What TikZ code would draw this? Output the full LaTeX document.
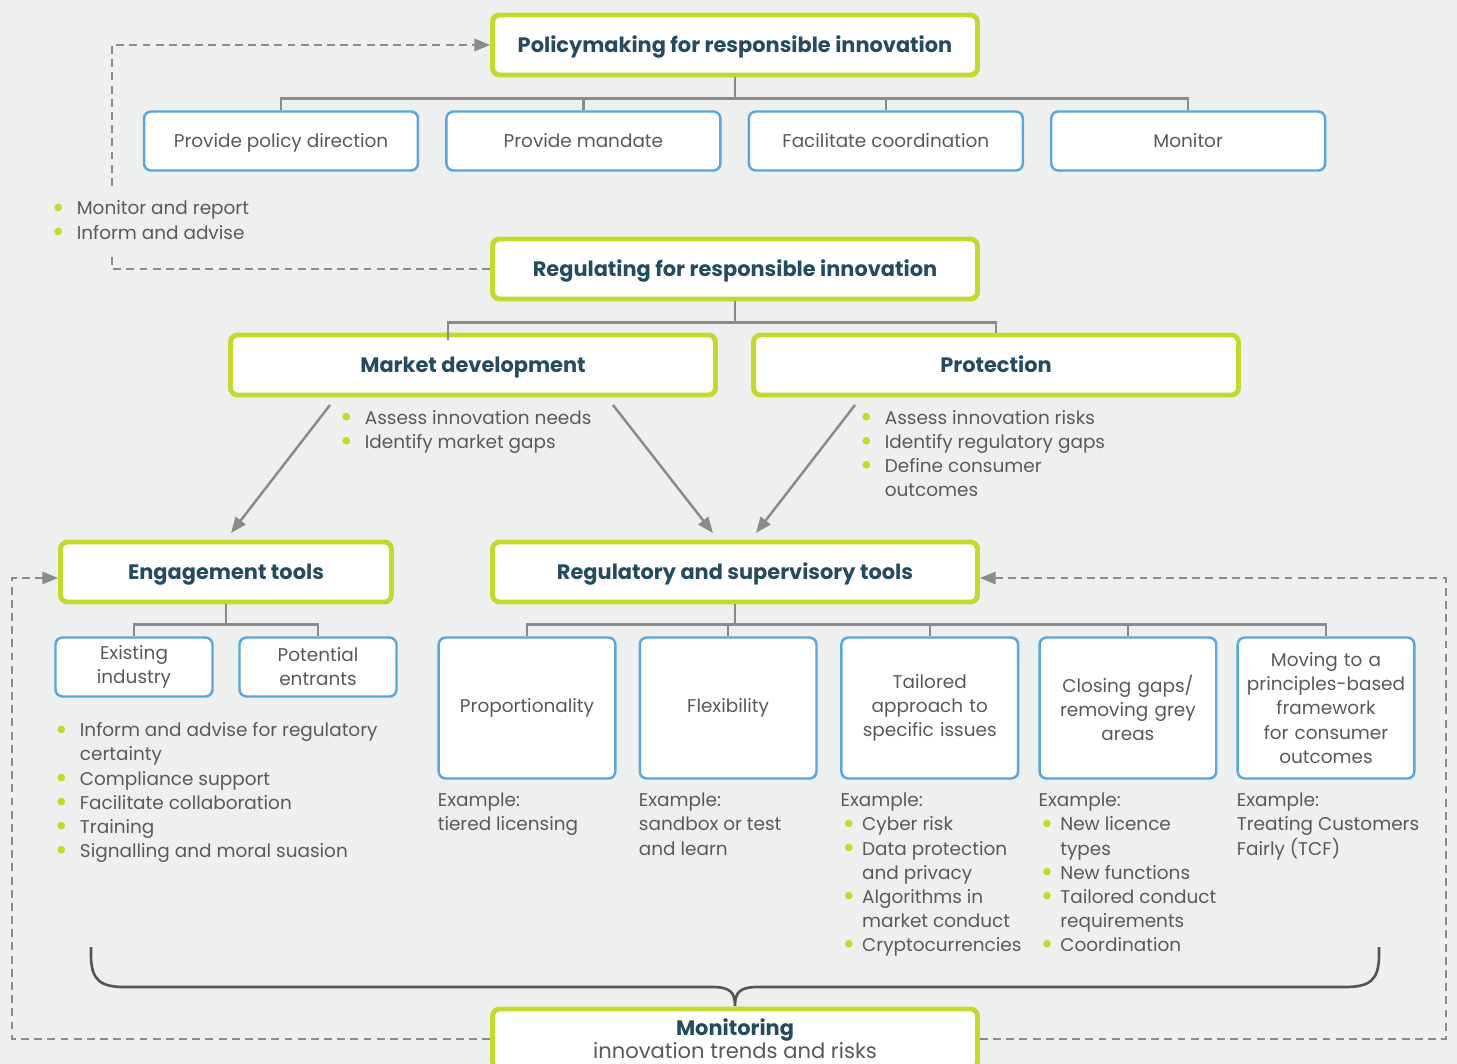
\documentclass[tikz,border=0pt]{standalone}
\usepackage{fontspec}
\setmainfont{Poppins}
\usepackage{xcolor}
\usetikzlibrary{positioning, arrows.meta}

\definecolor{bgcol}{HTML}{EEF0EF}
\definecolor{lime}{HTML}{C5D82D}
\definecolor{skyline}{HTML}{5AA5DC}
\definecolor{headtxt}{HTML}{244B5E}
\definecolor{bodytxt}{HTML}{595959}
\definecolor{linegray}{HTML}{8A8A8A}
\definecolor{bracegray}{HTML}{555555}

\newcommand{\bodyfont}{\fontsize{10.5}{13.7}\selectfont}
\newcommand{\headfont}{\fontsize{11.9}{15}\selectfont\bfseries}
\newcommand{\bpt}{\tikz[baseline=-4.3pt]\fill[lime] (0,0) circle[radius=2.2pt];}
\newcommand{\blist}[1]{\begin{tabular}{@{}l@{\hspace{8.4pt}}l@{}}#1\end{tabular}}
\newcommand{\exlist}[1]{\begin{tabular}{@{\hspace{2.5pt}}l@{\hspace{5.4pt}}l@{}}#1\end{tabular}}

\begin{document}
\begin{tikzpicture}[
    x=0.02cm, y=-0.02cm,
    mainbox/.style={rectangle, draw=lime, line width=2.8pt, rounded corners=4pt, fill=white, minimum width=9.7cm, minimum height=1.2cm, align=center, text=headtxt, font=\headfont, text height=8.4pt, text depth=0pt},
    subbox/.style={rectangle, draw=skyline, line width=1.4pt, rounded corners=4pt, fill=white, minimum width=5.48cm, minimum height=1.18cm, align=center, text=bodytxt, font=\bodyfont, text height=7.3pt, text depth=0pt},
    multi/.style={text height=, text depth=},
    toolbox/.style={subbox, multi, minimum width=3.5cm, minimum height=2.82cm, text width=3.3cm},
    plain/.style={inner sep=0pt, text=bodytxt, font=\bodyfont, align=left},
    tree/.style={draw=linegray, line width=1.4pt},
    fb/.style={draw=linegray, line width=1.4pt, dash pattern=on 4.5pt off 3pt, -{Triangle[length=9pt,width=7pt]}},
    arr/.style={draw=linegray, line width=1.4pt, -{Triangle[length=9pt,width=7pt]}}
]

\useasboundingbox (0,0) rectangle (1457,1064);
\clip (0,0) rectangle (1457,1064);
\fill[bgcol] (0,0) rectangle (1457,1064);

% policymaking level
\node[mainbox] (policy) at (735,45) {Policymaking for responsible innovation};
\node[subbox] (direction) at (281,141) {Provide policy direction};
\node[subbox, right=0.52cm of direction] (mandate) {Provide mandate};
\node[subbox, right=0.52cm of mandate] (coord) {Facilitate coordination};
\node[subbox, right=0.52cm of coord] (monitor) {Monitor};

\draw[tree] (policy.south) -- ++(0,21) coordinate (polbar);
\draw[tree] (polbar) -| (direction.north);
\draw[tree] (polbar) -| (mandate.north);
\draw[tree] (polbar) -| (coord.north);
\draw[tree] (polbar) -| (monitor.north);

% regulating level
\node[mainbox] (regulating) at (735,269) {Regulating for responsible innovation};
\draw[fb] (regulating.west) -- ++(-378,0) |- (policy.west);
\node[plain, fill=bgcol, inner ysep=5pt, anchor=north west] (polnotes) at (54,189)
    {\blist{\bpt & Monitor and report\\ \bpt & Inform and advise}};

\node[mainbox] (market) at (473,365) {Market development};
\node[mainbox] (protect) at (996,365) {Protection};
\coordinate (mktdrop) at (448,340);

\draw[tree] (regulating.south) -- ++(0,21) coordinate (regbar);
\draw[tree] (regbar) -| (mktdrop);
\draw[tree] (regbar) -| (protect.north);

\node[plain, anchor=north west] (mktnotes) at (342,407)
    {\blist{\bpt & Assess innovation needs\\ \bpt & Identify market gaps}};
\node[plain, anchor=north west] (protnotes) at (862,407)
    {\blist{\bpt & Assess innovation risks\\ \bpt & Identify regulatory gaps\\ \bpt & Define consumer\\ & outcomes}};

% tools level
\node[mainbox, minimum width=6.62cm] (engage) at (226,572) {Engagement tools};
\node[mainbox] (regtools) at (735,572) {Regulatory and supervisory tools};

\coordinate (a1s) at (330,405);
\coordinate (a1e) at (231,533);
\coordinate (a2s) at (613,405);
\coordinate (a2e) at (713,533);
\coordinate (a3s) at (855,405);
\coordinate (a3e) at (756,533);
\draw[arr] (a1s) -- (a1e);
\draw[arr] (a2s) -- (a2e);
\draw[arr] (a3s) -- (a3e);

\node[subbox, multi, minimum width=3.14cm] (existing) at (134,667) {Existing\\industry};
\node[subbox, multi, minimum width=3.14cm] (entrants) at (318,667) {Potential\\entrants};
\draw[tree] (engage.south) -- ++(0,20) coordinate (engbar);
\draw[tree] (engbar) -| (existing.north);
\draw[tree] (engbar) -| (entrants.north);

\node[plain, below=0.44cm of existing.south west, anchor=north west, xshift=1.6pt] (engnotes)
    {\blist{\bpt & Inform and advise for regulatory\\ & certainty\\ \bpt & Compliance support\\
     \bpt & Facilitate collaboration\\ \bpt & Training\\ \bpt & Signalling and moral suasion}};

\node[toolbox] (prop) at (527,708) {Proportionality};
\node[toolbox, right=0.44cm of prop] (flex) {Flexibility};
\node[toolbox, right=0.45cm of flex] (tailor) {Tailored\\approach to\\specific issues};
\node[toolbox, right=0.38cm of tailor] (closing) {Closing gaps/\\removing grey\\areas};
\node[toolbox, right=0.38cm of closing] (moving) {Moving to a\\principles-based\\framework\\for consumer\\outcomes};

\draw[tree] (regtools.south) -- ++(0,20) coordinate (toolbar);
\draw[tree] (toolbar) -| (prop.north);
\draw[tree] (toolbar) -| (flex.north);
\draw[tree] (toolbar) -| (tailor.north);
\draw[tree] (toolbar) -| (closing.north);
\draw[tree] (toolbar) -| (moving.north);

\node[plain, below=0.2cm of prop.south west, anchor=north west] (propex)
    {\begin{tabular}{@{}l@{}}Example:\\tiered licensing\end{tabular}};
\node[plain, below=0.2cm of flex.south west, anchor=north west] (flexex)
    {\begin{tabular}{@{}l@{}}Example:\\sandbox or test\\and learn\end{tabular}};
\node[plain, below=0.2cm of tailor.south west, anchor=north west] (tailorex)
    {\exlist{\multicolumn{2}{@{}l@{}}{Example:}\\ \bpt & Cyber risk\\ \bpt & Data protection\\ & and privacy\\
     \bpt & Algorithms in\\ & market conduct\\ \bpt & Cryptocurrencies}};
\node[plain, below=0.2cm of closing.south west, anchor=north west] (closingex)
    {\exlist{\multicolumn{2}{@{}l@{}}{Example:}\\ \bpt & New licence\\ & types\\ \bpt & New functions\\
     \bpt & Tailored conduct\\ & requirements\\ \bpt & Coordination}};
\node[plain, below=0.2cm of moving.south west, anchor=north west] (movingex)
    {\begin{tabular}{@{}l@{}}Example:\\Treating Customers\\Fairly (TCF)\end{tabular}};

% monitoring level
\draw[bracegray, line width=1.5pt] (91,947) -- (91,955) .. controls (91,980) and (100,987) .. (125,987)
    -- (712,987) .. controls (730,987) and (735,992) .. (735,1006)
    .. controls (735,992) and (740,987) .. (758,987) -- (1345,987)
    .. controls (1370,987) and (1379,980) .. (1379,955) -- (1379,947);

\node[mainbox, multi, minimum height=1.2cm] (monitoring) at (735,1039)
    {Monitoring\\[-2pt]{\fontsize{12}{14}\selectfont\mdseries\color{bodytxt}innovation trends and risks}};
\draw[fb] (monitoring.west) -- ++(-478,0) |- ([yshift=-3.4pt]engage.west);
\draw[fb] (monitoring.east) -- ++(466,0) |- ([yshift=-3.4pt]regtools.east);

\end{tikzpicture}
\end{document}
